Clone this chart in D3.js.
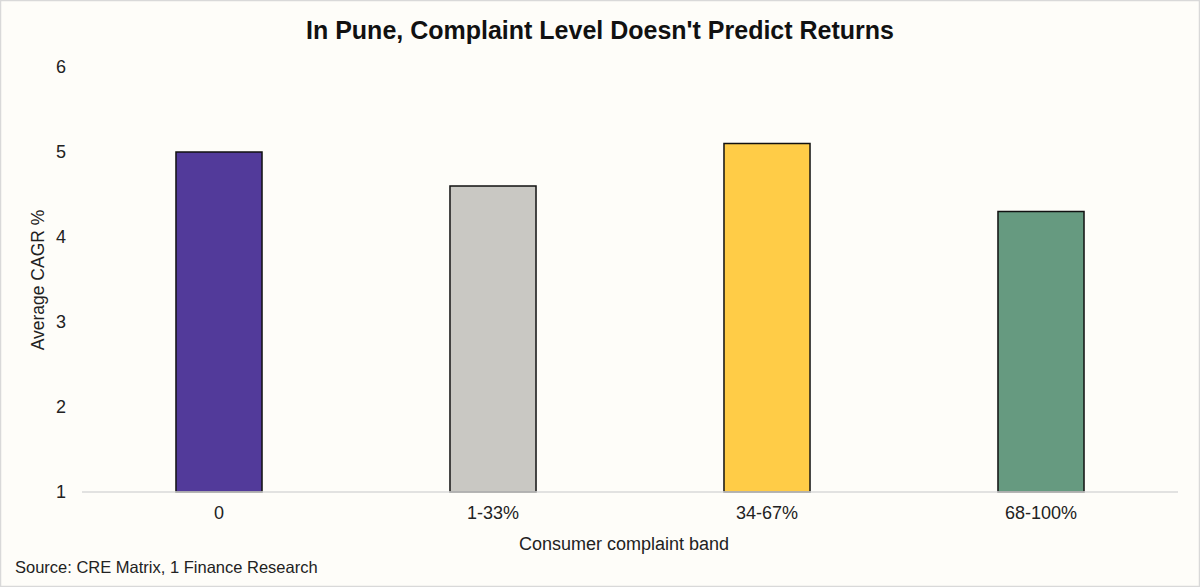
<!DOCTYPE html>
<html><head><meta charset="utf-8">
<script src="https://cdn.jsdelivr.net/npm/d3@7"></script>
<style>
html,body{margin:0;padding:0;background:#fff;}
svg{display:block;font-family:"Liberation Sans",Arial,sans-serif;}
</style></head>
<body>
<svg id="chart" width="1200" height="587"></svg>
<script>
const categories = ["0", "1-33%", "34-67%", "68-100%"];
const values = [5.0, 4.6, 5.1, 4.3];
const colors = ["#523A9A", "#C9C8C3", "#FFCC47", "#669A80"];
const yTicks = [1, 2, 3, 4, 5, 6];

const svg = d3.select("#chart");
const W = 1200, H = 587;
const m = {left: 82, right: 22, top: 67, bottom: 95};

svg.append("rect").attr("x", 0.5).attr("y", 0.5).attr("width", W - 1).attr("height", H - 1)
  .attr("fill", "#FEFDF9").attr("stroke", "#D9D9D9").attr("stroke-width", 1.5);

const x = d3.scaleBand().domain(categories).range([m.left, W - m.right]).paddingInner(0.686).paddingOuter(0.343);
const y = d3.scaleLinear().domain([1, 6]).range([H - m.bottom, m.top]);

// bars
svg.append("g").selectAll("rect").data(values).join("rect")
  .attr("x", (d, i) => x(categories[i]))
  .attr("width", x.bandwidth())
  .attr("y", d => y(d))
  .attr("height", d => y(1) - y(d))
  .attr("fill", (d, i) => colors[i])
  .attr("stroke", "#111").attr("stroke-width", 1.5);

// x axis
const xAxis = svg.append("g").attr("transform", `translate(0,${y(1)})`)
  .call(d3.axisBottom(x).tickSize(0).tickPadding(14));
xAxis.select(".domain").attr("stroke", "#D9D9D9").attr("stroke-width", 1.5)
  .attr("d", `M${m.left},0H${W - m.right}`);
xAxis.selectAll("text").attr("font-size", 18).attr("fill", "#222").attr("font-family", "Liberation Sans, Arial, sans-serif");

// y axis
const yAxis = svg.append("g").attr("transform", `translate(${m.left},0)`)
  .call(d3.axisLeft(y).tickValues(yTicks).tickSize(0).tickPadding(16).tickFormat(d3.format("d")));
yAxis.select(".domain").remove();
yAxis.selectAll("text").attr("font-size", 18).attr("fill", "#222").attr("font-family", "Liberation Sans, Arial, sans-serif");

// title
svg.append("text").attr("x", 600).attr("y", 39).attr("text-anchor", "middle")
  .attr("font-size", 25).attr("font-weight", "bold").attr("fill", "#111")
  .text("In Pune, Complaint Level Doesn't Predict Returns");

// axis titles
svg.append("text").attr("x", 624).attr("y", 550).attr("text-anchor", "middle")
  .attr("font-size", 18).attr("fill", "#222").text("Consumer complaint band");
svg.append("text").attr("transform", `translate(44,280) rotate(-90)`).attr("text-anchor", "middle")
  .attr("font-size", 17.5).attr("fill", "#222").text("Average CAGR %");

// source
svg.append("text").attr("x", 15).attr("y", 573).attr("font-size", 16.5).attr("fill", "#222")
  .text("Source: CRE Matrix, 1 Finance Research");
</script>
</body></html>
